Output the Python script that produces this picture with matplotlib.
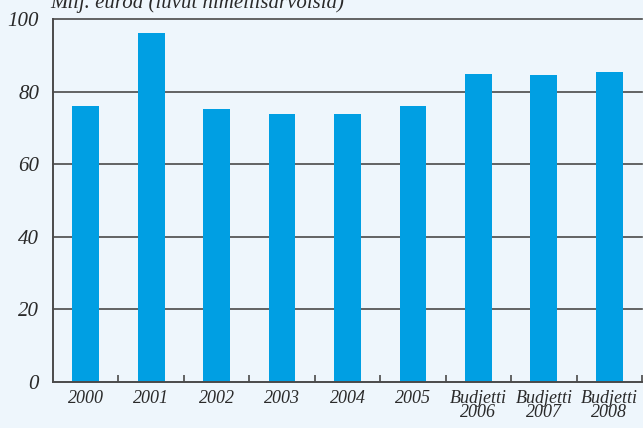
import matplotlib.pyplot as plt
import numpy as np

categories = ["2000", "2001", "2002", "2003", "2004", "2005",
              "Budjetti\n2006", "Budjetti\n2007", "Budjetti\n2008"]
values = [76.0, 96.1, 75.2, 73.8, 73.8, 76.0, 84.8, 84.6, 85.4]
yticks = [0, 20, 40, 60, 80, 100]

bg = "#EEF6FC"
bar_color = "#009FE3"
line_color = "#4a4a4a"
text_color = "#2a2a2a"

plt.rcParams["font.family"] = ["Liberation Serif", "DejaVu Serif"]
plt.rcParams["font.style"] = "italic"

fig = plt.figure(figsize=(6.43, 4.28), dpi=100, facecolor=bg)
ax = fig.add_axes([53 / 643, 1 - 381.7 / 428, 589 / 643, 362.7 / 428])
ax.set_facecolor(bg)

x = np.arange(len(categories))
ax.bar(x, values, width=0.41, color=bar_color, zorder=2)

ax.set_xlim(-0.5, len(categories) - 0.5)
ax.set_ylim(0, 100)

for y in yticks[1:]:
    ax.axhline(y, color=line_color, lw=1.2, zorder=1, clip_on=False)

for s in ["top", "right"]:
    ax.spines[s].set_visible(False)
for s in ["left", "bottom"]:
    ax.spines[s].set_color(line_color)
    ax.spines[s].set_linewidth(1.4)

ax.set_yticks(yticks)
ax.set_yticklabels([str(v) for v in yticks], fontsize=15, color=text_color)
ax.tick_params(axis="y", length=0, pad=10)

ax.set_xticks(x)
ax.set_xticklabels(categories, fontsize=13, color=text_color,
                   linespacing=0.8, va="top")
ax.tick_params(axis="x", which="major", length=0, pad=6)
ax.set_xticks(x + 0.5, minor=True)
ax.tick_params(axis="x", which="minor", direction="in", length=5, width=1.2, color=line_color)

for lab in ax.get_xticklabels() + ax.get_yticklabels():
    lab.set_fontstyle("italic")

fig.text(50 / 643, 1 - 8 / 428, "Milj. euroa (luvut nimellisarvoisia)", fontsize=15,
         style="italic", color=text_color, va="baseline", ha="left")

fig.savefig("out.png", dpi=100, facecolor=bg)
